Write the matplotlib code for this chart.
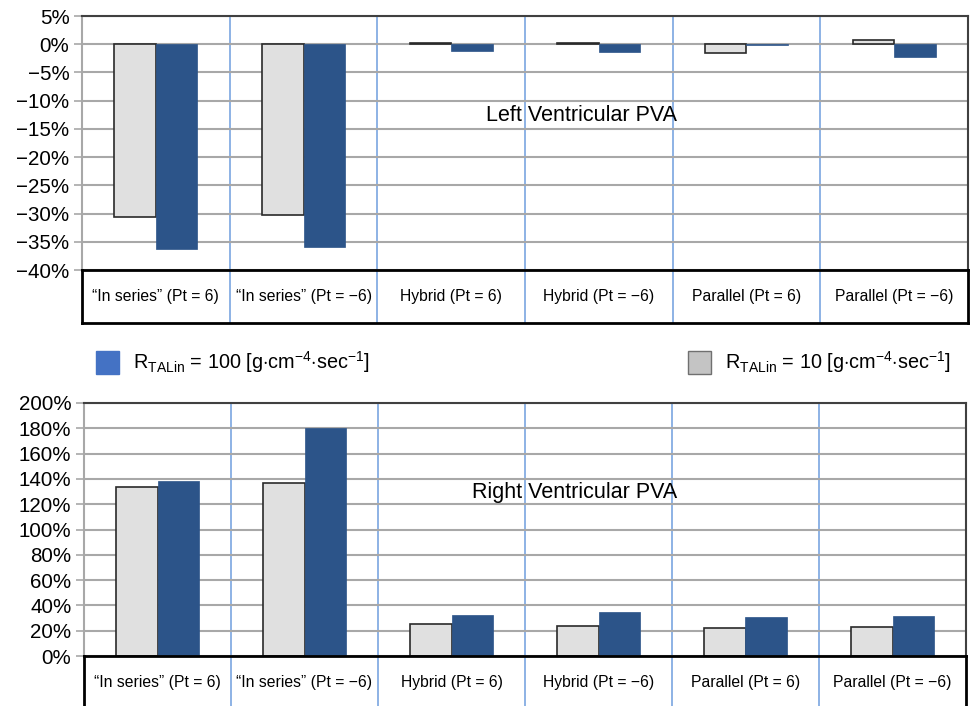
import matplotlib
matplotlib.use("Agg")
import matplotlib.pyplot as plt
import numpy as np
from matplotlib.patches import Rectangle
from matplotlib.ticker import PercentFormatter

plt.rcParams['font.family'] = ['Liberation Sans', 'DejaVu Sans']
plt.rcParams['mathtext.fontset'] = 'custom'
plt.rcParams['mathtext.rm'] = 'Liberation Sans'

# data (percent change)
categories = ['\u201cIn series\u201d (Pt = 6)', '\u201cIn series\u201d (Pt = \u22126)',
              'Hybrid (Pt = 6)', 'Hybrid (Pt = \u22126)',
              'Parallel (Pt = 6)', 'Parallel (Pt = \u22126)']
lv_r10 = [-30.6, -30.2, 0.2, 0.2, -1.5, 0.7]
lv_r100 = [-36.2, -36.0, -1.2, -1.4, -0.2, -2.2]
rv_r10 = [133.5, 136.5, 25.0, 23.5, 22.0, 22.8]
rv_r100 = [138.2, 180.0, 32.2, 34.8, 30.5, 31.3]

W, H = 973, 706
GRAY = '#e0e0e0'
BLUE = '#2c5489'
SEP = '#7aa6e0'


def px(x0, y0, x1, y1):
    # pixel box -> figure rect
    return [x0 / W, 1 - y1 / H, (x1 - x0) / W, (y1 - y0) / H]


def panel(fig, box_plot, box_lab, v10, v100, ylim, yticks, title, title_xy):
    ax = fig.add_axes(px(*box_plot))
    axb = fig.add_axes(px(*box_lab))
    x = np.arange(len(categories))
    bw = 0.28
    ax.bar(x - bw / 2, v10, bw, color=GRAY, edgecolor='#2a2a2a', linewidth=1.2, zorder=3)
    ax.bar(x + bw / 2, v100, bw, color=BLUE, edgecolor=BLUE, linewidth=0.5, zorder=3)
    ax.set_xlim(-0.5, len(categories) - 0.5)
    ax.set_ylim(*ylim)
    ax.set_yticks(yticks)
    ax.yaxis.set_major_formatter(PercentFormatter(decimals=0))
    ax.set_xticks([])
    ax.grid(axis='y', color='#a8a8a8', linewidth=1.5, zorder=0)
    ax.tick_params(axis='y', length=6, width=1.2, color='#a8a8a8', labelsize=14.8, pad=3)
    for s in ['top', 'right']:
        ax.spines[s].set_color('#404040')
        ax.spines[s].set_linewidth(1.5)
    ax.spines['left'].set_color('#a8a8a8')
    ax.spines['left'].set_linewidth(1.5)
    ax.spines['bottom'].set_visible(False)
    for k in range(len(categories) - 1):
        ax.axvline(k + 0.5, color=SEP, linewidth=1.2, zorder=1)
        axb.axvline(k + 0.5, color=SEP, linewidth=1.2, zorder=1)
    ax.text(title_xy[0], title_xy[1], title, fontsize=15.5, ha='center', va='center', zorder=4)

    axb.set_xlim(ax.get_xlim())
    axb.set_ylim(0, 1)
    axb.set_xticks([])
    axb.set_yticks([])
    for s in axb.spines.values():
        s.set_color('black')
        s.set_linewidth(2)
    for i, c in enumerate(categories):
        axb.text(i, 0.5, c, fontsize=11.3, ha='center', va='center')
    return ax


fig = plt.figure(figsize=(W / 100, H / 100), dpi=100)

panel(fig, (82, 16, 968, 270), (82, 270, 968, 323), lv_r10, lv_r100,
      (-40, 5), np.arange(-40, 6, 5), 'Left Ventricular PVA', (2.88, -12.6))
panel(fig, (84, 403, 966, 656), (84, 656, 966, 709), rv_r10, rv_r100,
      (0, 200), np.arange(0, 201, 20), 'Right Ventricular PVA', (2.84, 129.5))

# legend
leg = [('#4472c4', '#4472c4', 96, '100'), ('#c4c4c4', '#707070', 688, '10')]
for fc, ec, lx, val in leg:
    fig.add_artist(Rectangle((lx / W, 1 - 374 / H), 23 / W, 23 / H, transform=fig.transFigure,
                             facecolor=fc, edgecolor=ec, linewidth=1))
    fig.text((lx + 37) / W, 1 - 362 / H,
             r'$\mathregular{R_{TALin}}$' + ' = ' + val + r' [g$\cdot$cm$^{\mathregular{-4}}$$\cdot$sec$^{\mathregular{-1}}$]',
             fontsize=14.3, ha='left', va='center')

fig.savefig('out.png', dpi=100)
